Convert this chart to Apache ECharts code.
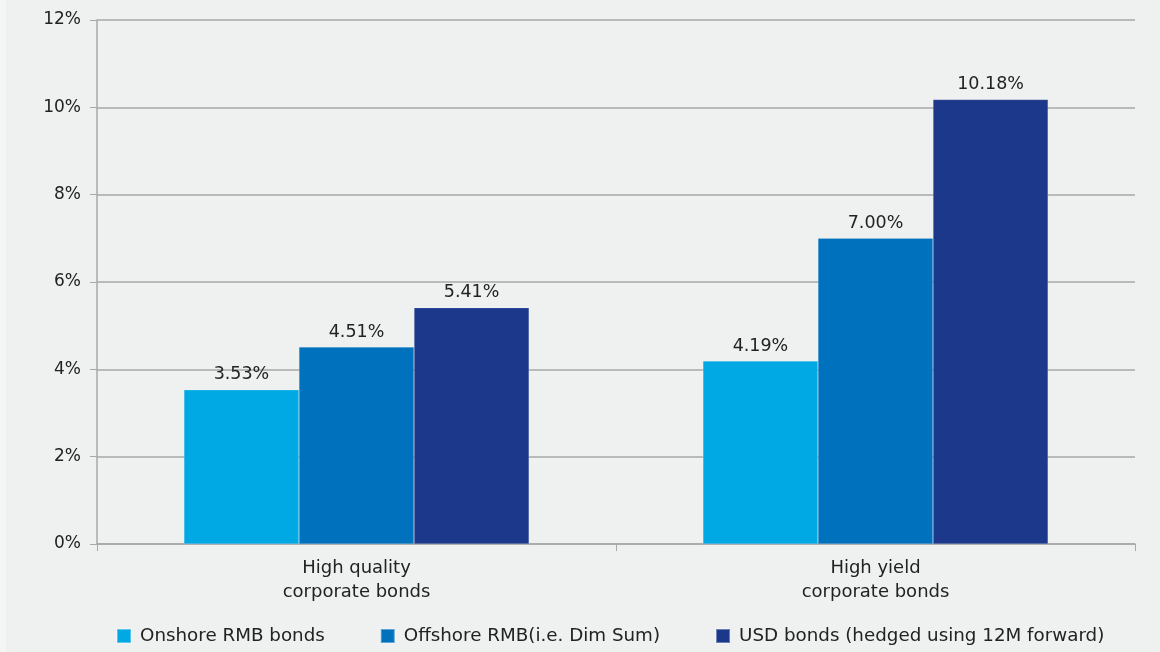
<!DOCTYPE html>
<html><head><meta charset="utf-8">
<script src="https://cdn.jsdelivr.net/npm/echarts@6/dist/echarts.min.js"></script>
<style>html,body{margin:0;padding:0;background:#eff0f0;}#c{width:1160px;height:652px;}</style>
</head><body><div id="c"></div>
<script>
const categories = ['High quality\ncorporate bonds', 'High yield\ncorporate bonds'];
const seriesNames = ['Onshore RMB bonds', 'Offshore RMB(i.e. Dim Sum)', 'USD bonds (hedged using 12M forward)'];
const onshore = [3.53, 4.19];
const offshore = [4.51, 7.00];
const usd = [5.41, 10.18];
const colors = ['#00a9e4', '#0071bc', '#1b388a'];
const font = 'DejaVu Sans';

const chart = echarts.init(document.getElementById('c'));
const mk = (name, data, color) => ({
  name, type: 'bar', data, barGap: '0%', barCategoryGap: '33.5%',
  itemStyle: { color, borderColor: 'rgba(255,255,255,0.35)', borderWidth: 0.5 },
  label: { show: true, position: 'top', distance: 6, formatter: p => p.value.toFixed(2) + '%',
    color: '#222', fontSize: 17.5, fontFamily: font }
});
chart.setOption({
  backgroundColor: '#eff0f0',
  animation: false,
  color: colors,
  graphic: [{ type: 'rect', left: 0, top: 0, shape: { width: 6, height: 652 }, style: { fill: '#f5f5f5' }, silent: true, z: -10 }],
  grid: { left: 97, right: 25, top: 20, bottom: 108 },
  legend: {
    bottom: 2, left: 111, itemWidth: 14, itemHeight: 14, itemGap: 55, icon: 'rect',
    textStyle: { fontSize: 18.3, color: '#222', fontFamily: font, padding: [0, 0, 0, 4] }, data: seriesNames
  },
  xAxis: {
    type: 'category', data: categories,
    axisLine: { lineStyle: { color: '#a8a8a8', width: 1.5 } },
    axisTick: { show: true, length: 7, lineStyle: { color: '#a8a8a8' } },
    axisLabel: { fontSize: 18, color: '#222', fontFamily: font, lineHeight: 24, margin: 12 }
  },
  yAxis: {
    type: 'value', min: 0, max: 12, interval: 2,
    axisLine: { show: true, lineStyle: { color: '#a8a8a8', width: 1.5 } },
    axisTick: { show: true, length: 7, lineStyle: { color: '#a8a8a8' } },
    splitLine: { lineStyle: { color: '#a8a8a8', width: 1.5 } },
    axisLabel: { formatter: '{value}%', fontSize: 17, color: '#222', fontFamily: font, margin: 16 }
  },
  series: [mk(seriesNames[0], onshore, colors[0]), mk(seriesNames[1], offshore, colors[1]), mk(seriesNames[2], usd, colors[2])]
});
</script></body></html>
